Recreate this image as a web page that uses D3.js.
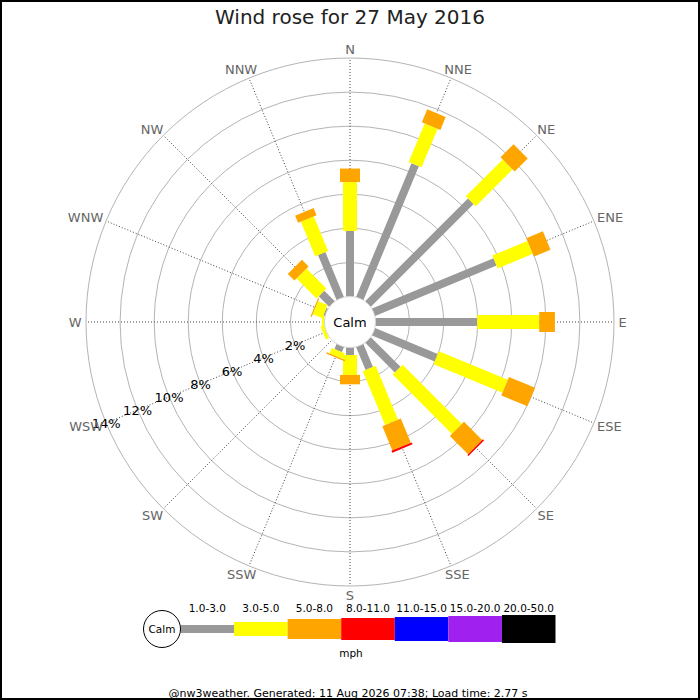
<!DOCTYPE html>
<html>
<head>
<meta charset="utf-8">
<script src="https://cdn.jsdelivr.net/npm/d3@7"></script>
<style>
  body { margin: 0; background: #fff; }
  text { font-family: "DejaVu Sans", Verdana, sans-serif; }
</style>
</head>
<body>
<script>
// ---------------- DATA ----------------
const titleText = "Wind rose for 27 May 2016";
const footerText = "@nw3weather. Generated: 11 Aug 2026 07:38; Load time: 2.77 s";
const directions = ["N","NNE","NE","ENE","E","ESE","SE","SSE","S","SSW","SW","WSW","W","WNW","NW","NNW"];
const speedBands = ["1.0-3.0","3.0-5.0","5.0-8.0","8.0-11.0","11.0-15.0","15.0-20.0","20.0-50.0"];
const speedUnit = "mph";
const calmLabel = "Calm";
// percentage of time per direction, per speed band
const band1to3   = [3.85, 8.50, 8.53, 7.72, 5.97, 3.98, 2.46, 1.46, 0.44, 0.32, 0, 0,    0,    0.10, 0.87, 2.85];
const band3to5   = [2.87, 2.45, 3.06, 2.23, 3.64, 4.38, 4.92, 3.42, 1.17, 0.35, 0, 0.20, 0.15, 0.60, 1.66, 2.20];
const band5to8   = [0.79, 0.82, 1.08, 1.05, 0.92, 1.66, 1.51, 1.54, 0.55, 0.08, 0, 0,    0,    0.07, 0.55, 0.45];
const band8to11  = [0,    0,    0,    0,    0,    0,    0.09, 0.12, 0,    0,    0, 0,    0,    0,    0,    0];
const band11to15 = [0,0,0,0,0,0,0,0,0,0,0,0,0,0,0,0];
const band15to20 = [0,0,0,0,0,0,0,0,0,0,0,0,0,0,0,0];
const band20to50 = [0,0,0,0,0,0,0,0,0,0,0,0,0,0,0,0];
const percentTicks = [2, 4, 6, 8, 10, 12, 14];

// ---------------- STYLE ----------------
const bandSeries = [band1to3, band3to5, band5to8, band8to11, band11to15, band15to20, band20to50];
const bandColors = ["#999999", "#ffff00", "#ffa500", "#ff0000", "#0000ff", "#a020f0", "#000000"];
const bandWidths = [8, 14, 20, 22, 24, 26, 28];

const W = 700, H = 700;
const cx = 350, cy = 322;

const svg = d3.select("body").append("svg").attr("width", W).attr("height", H);
svg.append("rect").attr("x", 1).attr("y", 1).attr("width", W - 2).attr("height", H - 2)
  .attr("fill", "#fff").attr("stroke", "#000").attr("stroke-width", 2);

// scales
const rScale = d3.scaleLinear().domain([0, 14]).range([25.5, 264]);
const angScale = d3.scalePoint().domain(directions).range([0, 337.5]);
const rad = d => d * Math.PI / 180;
const pt = (deg, r) => [cx + r * Math.sin(rad(deg)), cy - r * Math.cos(rad(deg))];

// title
svg.append("text").attr("x", 350).attr("y", 24).attr("text-anchor", "middle")
  .attr("font-size", 20).attr("fill", "#222").text(titleText);

const g = svg.append("g");

// rings
g.selectAll("circle.ring").data(percentTicks).join("circle")
  .attr("class", "ring").attr("cx", cx).attr("cy", cy).attr("r", d => rScale(d))
  .attr("fill", "none").attr("stroke", "#b4b4b4").attr("stroke-width", 1);

// spokes
g.selectAll("line.spoke").data(directions).join("line")
  .attr("class", "spoke")
  .attr("x1", cx).attr("y1", cy)
  .attr("x2", d => pt(angScale(d), rScale(14))[0])
  .attr("y2", d => pt(angScale(d), rScale(14))[1])
  .attr("stroke", "#444").attr("stroke-width", 1).attr("stroke-dasharray", "1,2");

// bars
const segs = [];
directions.forEach((dir, i) => {
  let cum = 0;
  bandSeries.forEach((s, b) => {
    const v = s[i];
    if (v > 0) segs.push({ dir, band: b, start: cum, end: cum + v });
    cum += v;
  });
});
g.selectAll("rect.seg").data(segs).join("rect")
  .attr("class", "seg")
  .attr("transform", d => `translate(${cx},${cy}) rotate(${angScale(d.dir)})`)
  .attr("x", d => -bandWidths[d.band] / 2)
  .attr("y", d => -rScale(d.end))
  .attr("width", d => bandWidths[d.band])
  .attr("height", d => rScale(d.end) - rScale(d.start))
  .attr("fill", d => bandColors[d.band]);

// calm circle
g.append("circle").attr("cx", cx).attr("cy", cy).attr("r", rScale(0))
  .attr("fill", "#fff").attr("stroke", "#cfcfcf").attr("stroke-width", 0.8);
g.append("text").attr("x", cx).attr("y", cy + 4.5).attr("text-anchor", "middle")
  .attr("font-size", 13).attr("fill", "#000").text(calmLabel);

// percent labels along WSW
const labAng = angScale("WSW");
g.selectAll("text.pct").data(percentTicks).join("text")
  .attr("class", "pct")
  .attr("x", d => pt(labAng, rScale(d))[0])
  .attr("y", d => pt(labAng, rScale(d))[1] + 4.8)
  .attr("text-anchor", "middle").attr("font-size", 13).attr("fill", "#000")
  .text(d => d + "%");

// direction labels
const dl = g.selectAll("text.dir").data(directions).join("text")
  .attr("class", "dir").attr("text-anchor", "middle")
  .attr("font-size", 13).attr("fill", "#666").text(d => d);
dl.each(function (d) {
  const a = angScale(d);
  const w = this.getComputedTextLength();
  const h = 9.5;
  const [px, py] = pt(a, 268.5);
  const x = px + Math.sin(rad(a)) * w / 2;
  const y = py - Math.cos(rad(a)) * h / 2;
  d3.select(this).attr("x", x).attr("y", y + h / 2);
});

// legend
const lx = d3.scaleBand().domain(speedBands).range([180.5, 555.5]);
const ly = 629;
svg.selectAll("rect.leg").data(speedBands).join("rect")
  .attr("class", "leg")
  .attr("x", d => lx(d)).attr("width", lx.bandwidth())
  .attr("y", (d, i) => ly - bandWidths[i] / 2).attr("height", (d, i) => bandWidths[i])
  .attr("fill", (d, i) => bandColors[i]);
svg.selectAll("text.leglab").data(speedBands).join("text")
  .attr("class", "leglab")
  .attr("x", d => lx(d) + lx.bandwidth() / 2).attr("y", 611.5)
  .attr("text-anchor", "middle").attr("font-size", 10.5).attr("fill", "#000")
  .text(d => d);
svg.append("circle").attr("cx", 162).attr("cy", ly).attr("r", 18.5)
  .attr("fill", "#fff").attr("stroke", "#000").attr("stroke-width", 1);
svg.append("text").attr("x", 162).attr("y", ly + 4).attr("text-anchor", "middle")
  .attr("font-size", 10.5).attr("fill", "#000").text(calmLabel);
svg.append("text").attr("x", 351).attr("y", 657).attr("text-anchor", "middle")
  .attr("font-size", 10.5).attr("fill", "#000").text(speedUnit);

// footer
svg.append("text").attr("x", 348).attr("y", 696.5).attr("text-anchor", "middle")
  .attr("font-size", 11).attr("fill", "#000").text(footerText);
</script>
</body>
</html>
